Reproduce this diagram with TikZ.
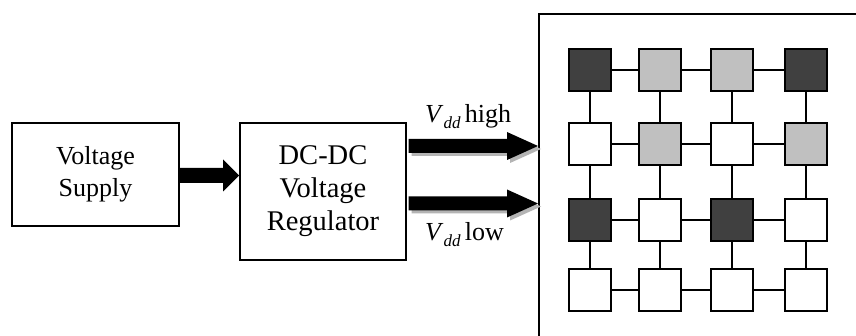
\documentclass[tikz,border=0pt]{standalone}
\usepackage{fontspec}
\setmainfont{Liberation Serif}
\usetikzlibrary{calc}
\definecolor{dk}{HTML}{404040}
\definecolor{lt}{HTML}{C0C0C0}
\definecolor{shd}{HTML}{B4B4B4}
\newcommand\blockarrow[6]{%
  \fill[#6] ($(#1)+(0,-#3)$) -- ($(#2)+(-#5,-#3)$) -- ($(#2)+(-#5,-#4)$) -- (#2)
    -- ($(#2)+(-#5,#4)$) -- ($(#2)+(-#5,#3)$) -- ($(#1)+(0,#3)$) -- cycle;}
\begin{document}
\begin{tikzpicture}[x=1pt,y=-1pt,
  box/.style={draw,line width=2pt,align=center,inner sep=0pt},
  cell/.style={draw,line width=2pt,minimum width=42pt,minimum height=42pt,inner sep=0pt},
  link/.style={line width=2pt},
  arrowfill/.style={fill=black},
  shadowfill/.style={fill=shd,transform canvas={shift={(3,3)}}},
  lab/.style={anchor=base west,inner sep=0pt,font=\fontsize{26}{30}\selectfont}]
\useasboundingbox (0,0) rectangle (856,336);
\clip (0,0) rectangle (856,336);
\fill[white] (0,0) rectangle (856,336);

\node[box,minimum width=167pt,minimum height=103pt,font=\fontsize{26}{32}\selectfont] (vs) at (95.5,174.5) {Voltage\\Supply};
\node[box,minimum width=166pt,minimum height=137pt,font=\fontsize{28.5}{33}\selectfont] (dc) at (323,191.5) {DC-DC\\Voltage\\Regulator};
\node[draw,line width=2pt,anchor=north west,minimum width=500pt,minimum height=500pt] (mesh) at (538,13) {};

\coordinate (as) at ([yshift=-1pt]vs.east);
\coordinate (ae) at (as -| dc.west);
\blockarrow{as}{ae}{7.5}{16}{16}{arrowfill}

\coordinate (hs) at ([xshift=1.5pt]dc.east |- 0,146);
\coordinate (he) at (mesh.west |- 0,146);
\coordinate (ls) at ([xshift=1.5pt]dc.east |- 0,203.5);
\coordinate (le) at (mesh.west |- 0,203.5);
\blockarrow{hs}{he}{7}{14}{31}{shadowfill}
\blockarrow{ls}{le}{7}{14}{31}{shadowfill}
\blockarrow{hs}{he}{7}{14}{31}{arrowfill}
\blockarrow{ls}{le}{7}{14}{31}{arrowfill}

\node[lab] (lh) at (425,123) {\textit{V}\raisebox{-0.22em}{\fontsize{17}{17}\selectfont\itshape dd}\,high};
\node[lab] (ll) at (425,241) {\textit{V}\raisebox{-0.22em}{\fontsize{17}{17}\selectfont\itshape dd}\,low};

\foreach \i/\j/\f in {1/1/dk,2/1/lt,3/1/lt,4/1/dk,
                      1/2/white,2/2/lt,3/2/white,4/2/lt,
                      1/3/dk,2/3/white,3/3/dk,4/3/white,
                      1/4/white,2/4/white,3/4/white,4/4/white}{
  \pgfmathsetmacro\xx{{590,660,732,806}[\i-1]}
  \pgfmathsetmacro\yy{{70,144,220,290}[\j-1]}
  \node[cell,fill=\f] (c\i\j) at (\xx,\yy) {};
}
\foreach \j in {1,2,3,4}{
  \draw[link] (c1\j) -- (c2\j);
  \draw[link] (c2\j) -- (c3\j);
  \draw[link] (c3\j) -- (c4\j);
  \draw[link] (c\j1) -- (c\j2);
  \draw[link] (c\j2) -- (c\j3);
  \draw[link] (c\j3) -- (c\j4);
}
\end{tikzpicture}
\end{document}
